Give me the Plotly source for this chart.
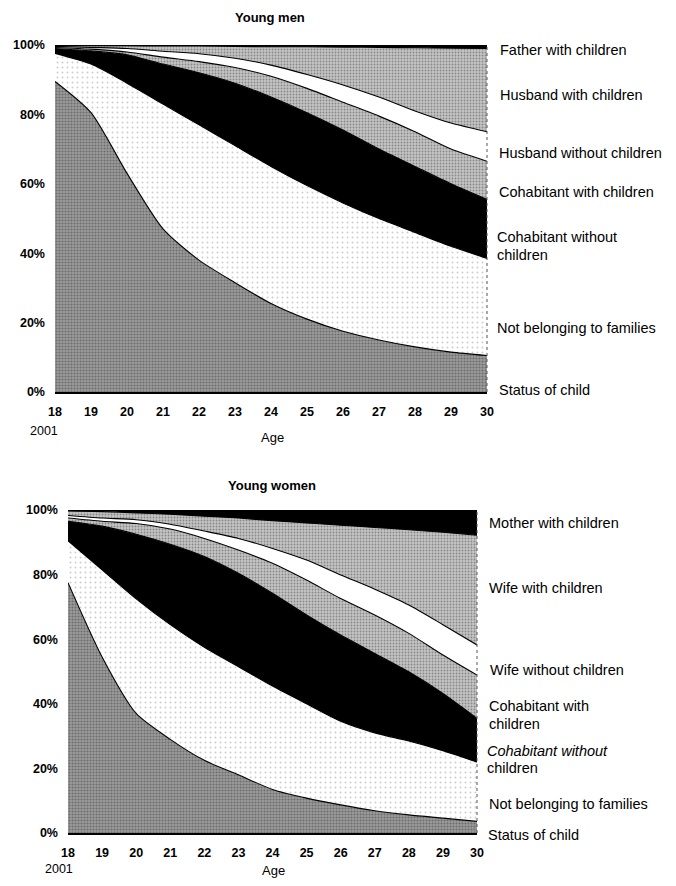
import plotly.graph_objects as go

# ---------------- data ----------------
ages = list(range(18, 31))
age_tick_labels = [str(a) for a in ages]
pct_ticks = [0, 20, 40, 60, 80, 100]
pct_tick_labels = ["0%", "20%", "40%", "60%", "80%", "100%"]

# Young men (% of age group), bottom to top of the stack
men_status_child = [89.5, 80.5, 63, 47, 38, 31.5, 25.5, 21, 17.5, 15, 13, 11.5, 10.5]
men_not_belonging = [8.1, 14, 26, 36, 39, 39.5, 39.5, 38.5, 37, 35, 33, 30.5, 28]
men_cohab_without = [1.4, 3.8, 8.2, 11.5, 15, 18, 20, 21, 21, 20, 19, 18, 17]
men_cohab_with = [0.3, 0.5, 0.8, 2, 3.2, 4.5, 6, 7, 8, 9.5, 10, 10, 11]
men_husband_without = [0.3, 0.5, 1, 1.7, 2.3, 2.7, 3.2, 4, 5, 5.5, 6, 7.5, 8.5]
men_husband_with = [0.3, 0.5, 0.8, 1.5, 2.2, 3.4, 5.3, 8, 10.9, 14.3, 18.2, 21.6, 24]
men_father = [0.1, 0.2, 0.2, 0.3, 0.3, 0.4, 0.5, 0.5, 0.6, 0.7, 0.8, 0.9, 1.0]

# Young women (% of age group), bottom to top of the stack
women_status_child = [77.5, 54.5, 37, 29, 22.5, 18, 13.5, 10.8, 8.7, 6.9, 5.6, 4.6, 3.6]
women_not_belonging = [13, 27, 35.5, 35.5, 35, 33.5, 32, 29.2, 25.9, 24.1, 22.9, 20.9, 18.4]
women_cohab_without = [6, 13.5, 20, 24.9, 28.1, 28.9, 28.7, 27.5, 26.7, 24.6, 21.4, 17.7, 13.5]
women_cohab_with = [1, 1.5, 3.3, 4.7, 5.6, 7.2, 9.3, 10.8, 11.3, 11.9, 11.9, 11.9, 13.4]
women_wife_without = [0.8, 1.0, 1.2, 1.5, 2.3, 3.6, 4.6, 6.2, 7.3, 8.0, 8.8, 9.4, 9.3]
women_wife_with = [1.4, 2.0, 2.1, 3.1, 4.6, 6.3, 8.6, 11.5, 15.4, 19.1, 23.3, 28.6, 34]
women_mother = [0.3, 0.5, 0.9, 1.3, 1.9, 2.5, 3.3, 4.0, 4.7, 5.4, 6.1, 6.9, 7.8]

men_series = [
    ("Status of child", men_status_child, "dark"),
    ("Not belonging to families", men_not_belonging, "dots"),
    ("Cohabitant without children", men_cohab_without, "black"),
    ("Cohabitant with children", men_cohab_with, "gray"),
    ("Husband without children", men_husband_without, "white"),
    ("Husband with children", men_husband_with, "gray"),
    ("Father with children", men_father, "black"),
]
women_series = [
    ("Status of child", women_status_child, "dark"),
    ("Not belonging to families", women_not_belonging, "dots"),
    ("Cohabitant without children", women_cohab_without, "black"),
    ("Cohabitant with children", women_cohab_with, "gray"),
    ("Wife without children", women_wife_without, "white"),
    ("Wife with children", women_wife_with, "gray"),
    ("Mother with children", women_mother, "black"),
]

# ---------------- styling ----------------
PAGE_MARGIN = 8            # default body margin of the html page
W, H = 676 - 2 * PAGE_MARGIN, 886 - 2 * PAGE_MARGIN
FONT = "Liberation Sans, Arial, sans-serif"

STYLES = {
    "dark": dict(fillcolor="#8c8c8c",
                 fillpattern=dict(shape=".", fgcolor="#3c3c3c", bgcolor="#9c9c9c", size=3, solidity=0.4)),
    "dots": dict(fillcolor="#f4f4f4",
                 fillpattern=dict(shape=".", fgcolor="#9a9a9a", bgcolor="#ffffff", size=5, solidity=0.12)),
    "black": dict(fillcolor="#000000"),
    "gray": dict(fillcolor="#b4b4b4",
                 fillpattern=dict(shape=".", fgcolor="#4a4a4a", bgcolor="#c4c4c4", size=3, solidity=0.3)),
    "white": dict(fillcolor="#ffffff"),
}


def px_x(v):
    return (v - PAGE_MARGIN) / W


def px_y(v):
    return 1 - (v - PAGE_MARGIN) / H


fig = go.Figure()


def add_stack(series, group, xaxis, yaxis):
    for name, vals, style in series:
        fig.add_trace(go.Scatter(
            x=ages, y=vals, name=name, stackgroup=group, mode="lines",
            line=dict(color="#000000", width=1.1, shape="spline", smoothing=0.7),
            xaxis=xaxis, yaxis=yaxis, showlegend=False, hoverinfo="skip",
            **STYLES[style]))


add_stack(men_series, "men", "x", "y")
add_stack(women_series, "women", "x2", "y2")

axis_font = dict(family=FONT, size=12.5, color="#000000", weight="bold")
common_x = dict(range=[18, 30], tickvals=ages, ticktext=age_tick_labels, showgrid=False,
                zeroline=False, showline=True, linecolor="#000000", linewidth=1.5,
                ticks="", tickfont=axis_font, ticklabelstandoff=7, automargin=False)
common_y = dict(range=[0, 100], tickvals=pct_ticks, ticktext=pct_tick_labels, showgrid=False,
                zeroline=False, showline=False, ticks="", tickfont=axis_font,
                ticklabelstandoff=9, automargin=False)

fig.update_layout(
    width=W, height=H,
    margin=dict(l=0, r=0, t=0, b=0, pad=0, autoexpand=False),
    paper_bgcolor="#ffffff", plot_bgcolor="#ffffff",
    font=dict(family=FONT, color="#000000"),
    xaxis=dict(domain=[px_x(55), px_x(487)], anchor="y", **common_x),
    yaxis=dict(domain=[px_y(392), px_y(45)], anchor="x", **common_y),
    xaxis2=dict(domain=[px_x(68), px_x(477)], anchor="y2", **common_x),
    yaxis2=dict(domain=[px_y(833), px_y(510)], anchor="x2", **common_y),
)

# dotted right-hand frame edge of each panel
for xr, yr in (("x domain", "y domain"), ("x2 domain", "y2 domain")):
    fig.add_shape(type="line", xref=xr, yref=yr, x0=1, x1=1, y0=0, y1=1,
                  line=dict(color="#555555", width=1, dash="dot"), layer="above")

ann = []


def text(x, y, s, size=14.5, anchor="left", bold=False, italic=False):
    if bold:
        s = "<b>" + s + "</b>"
    if italic:
        s = "<i>" + s + "</i>"
    ann.append(dict(x=px_x(x), y=px_y(y), xref="paper", yref="paper", text=s,
                    showarrow=False, xanchor=anchor, yanchor="middle",
                    font=dict(family=FONT, size=size, color="#000000")))


# titles
text(270, 18, "Young men", size=13, anchor="center", bold=True)
text(272, 485, "Young women", size=13, anchor="center", bold=True)

# men labels
text(498, 50, "Father with children")
text(498, 95, "Husband with children")
text(497, 153, "Husband without children")
text(497, 192, "Cohabitant with children")
text(495, 237, "Cohabitant without")
text(495, 255, "children")
text(495, 328, "Not belonging to families")
text(497, 390, "Status of child")

# women labels
text(487, 523, "Mother with children")
text(487, 588, "Wife with children")
text(488, 670, "Wife without children")
text(487, 706, "Cohabitant with")
text(487, 724, "children")
text(485, 751, "Cohabitant without", italic=True)
text(485, 768, "children")
text(487, 804, "Not belonging to families")
text(486, 835, "Status of child")

# axis footers
text(28, 431, "2001", size=12.5)
text(272, 437, "Age", size=13, anchor="center")
text(43, 869, "2001", size=12.5)
text(273, 870, "Age", size=13, anchor="center")

fig.update_layout(annotations=ann)

fig.write_html("out.html")
